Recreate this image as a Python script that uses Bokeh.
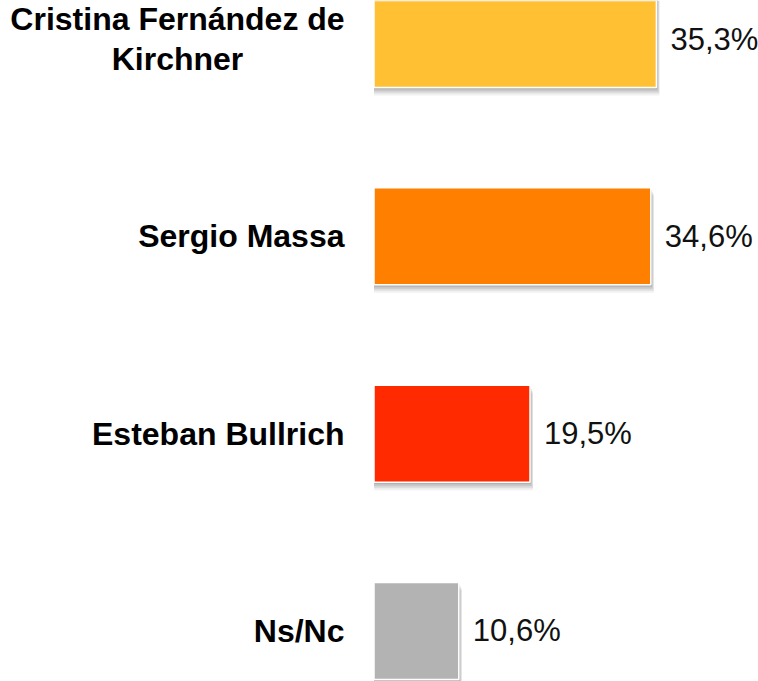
from bokeh.plotting import figure
from bokeh.models import ColumnDataSource, Range1d
from bokeh.core.properties import value
from bokeh.embed import file_html
from bokeh.resources import INLINE

# ---- data ----
candidates = ["Cristina Fernández de\nKirchner", "Sergio Massa", "Esteban Bullrich", "Ns/Nc"]
percentages = [35.3, 34.6, 19.5, 10.6]
bar_colors = ["#FFC034", "#FF7F00", "#FF2A00", "#B3B3B3"]

# ---- layout constants ----
W, H = 758, 681
PX_X = 8.0          # px per percentage point
PX_Y = 197.33       # px per category step
X0_SCREEN = 373.5   # position of 0 relative to figure left
Y0_SCREEN = 38.5    # centre of first bar relative to figure top
BAR_H = 0.4916

positions = list(range(len(candidates)))
value_labels = [f"{v:.1f}".replace(".", ",") + "%" for v in percentages]

p = figure(width=W, height=H, output_backend="svg", toolbar_location=None,
           x_range=Range1d(-X0_SCREEN / PX_X, (W - X0_SCREEN) / PX_X),
           y_range=Range1d((H - Y0_SCREEN) / PX_Y, -Y0_SCREEN / PX_Y),
           x_axis_location=None, y_axis_location=None, min_border=0)
p.grid.visible = False
p.outline_line_color = None
p.background_fill_color = "white"
p.border_fill_color = "white"

src = ColumnDataSource(dict(y=positions, v=percentages, c=bar_colors, lab=value_labels))

# soft drop shadow (a few translucent layers offset down/right)
for dy, dx, a in [(2, 1, 0.18), (4, 2, 0.16), (6, 3, 0.12), (8, 3, 0.08)]:
    sh = ColumnDataSource(dict(y=[yy + dy / PX_Y for yy in positions],
                               r=[vv + dx / PX_X for vv in percentages]))
    p.hbar(y="y", left=0, right="r", height=BAR_H, source=sh,
           fill_color="#555555", fill_alpha=a, line_color=None)

p.hbar(y="y", left=0, right="v", height=BAR_H, source=src,
       fill_color="c", line_color="white", line_width=1.5)

# value labels
p.text(x="v", y="y", text="lab", source=src, x_offset=14,
       text_align="left", text_baseline="middle",
       text_font=value("Liberation Sans"), text_font_size="31px", text_color="#111111")

# category labels
single = ColumnDataSource(dict(
    y=[y for y, c in zip(positions, candidates) if "\n" not in c],
    t=[c for c in candidates if "\n" not in c]))
multi = ColumnDataSource(dict(
    y=[y for y, c in zip(positions, candidates) if "\n" in c],
    t=[c for c in candidates if "\n" in c]))

LABEL_RIGHT = -29.5 / PX_X
p.text(x=LABEL_RIGHT, y="y", text="t", source=single,
       text_align="right", text_baseline="middle",
       text_font=value("Liberation Sans"), text_font_style="bold",
       text_font_size="32px", text_color="black")
p.text(x=LABEL_RIGHT, y="y", text="t", source=multi, x_offset=-167,
       text_align="center", text_baseline="middle", text_line_height=1.12,
       text_font=value("Liberation Sans"), text_font_style="bold",
       text_font_size="32px", text_color="black")

open("out.html", "w").write(file_html(p, INLINE))
